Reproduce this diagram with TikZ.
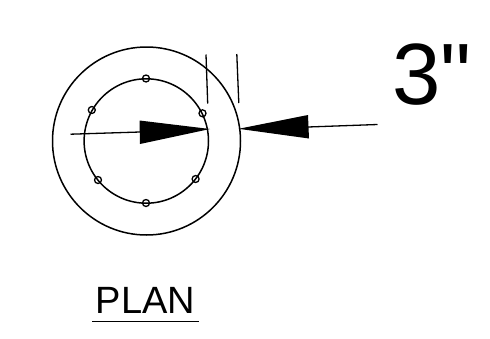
\documentclass[tikz,border=0pt]{standalone}
\usepackage{fontspec}
\setmainfont{Liberation Sans}
\newfontfamily\plainsans{Liberation Sans}
\begin{document}
\begin{tikzpicture}[x=1pt,y=-1pt,
  line/.style={black,line width=1.5pt},
  bar/.style={black,line width=1.3pt},
  rebar/.style={circle,draw=black,line width=1.3pt,minimum size=7pt,inner sep=0pt},
  lab/.style={inner sep=0pt,anchor=base west,text=black}]
\useasboundingbox (0,0) rectangle (490,338);
\fill[white] (0,0) rectangle (490,338);
\draw[line] (146.5,141) circle [radius=94];
\draw[line] (146.3,141) circle [radius=62.2];
\node[rebar] (r1) at (146,78.5) {};
\node[rebar] (r2) at (146,203) {};
\node[rebar] (r3) at (91.8,110) {};
\node[rebar] (r4) at (202.5,113.3) {};
\node[rebar] (r5) at (98,180) {};
\node[rebar] (r6) at (195.6,179) {};
\coordinate (la) at (70.5,134.2);
\coordinate (lb) at (140,132);
\coordinate (lt) at (210,129);
\coordinate (lu) at (139.5,120.5);
\coordinate (ld) at (140,144);
\draw[bar] (la) -- (lb);
\fill[black] (lu) -- (lt) -- (ld) -- cycle;
\coordinate (ra) at (377.5,124.5);
\coordinate (rb) at (308,127);
\coordinate (rt) at (238.5,128.8);
\coordinate (ru) at (308,115);
\coordinate (rd) at (309,138.5);
\draw[bar] (ra) -- (rb);
\fill[black] (ru) -- (rt) -- (rd) -- cycle;
\coordinate (t1a) at (206,54.5);
\coordinate (t1b) at (207.7,103.5);
\coordinate (t2a) at (236.8,54);
\coordinate (t2b) at (238.8,103);
\draw[bar] (t1a) -- (t1b);
\draw[bar] (t2a) -- (t2b);
\node[lab,font=\plainsans\fontsize{87}{87}\selectfont] (dim) at (392,104) {3"};
\node[lab,font=\fontsize{38}{38}\selectfont] (plan) at (95.5,313) {PLAN};
\coordinate (ua) at (92,321.7);
\coordinate (ub) at (198.5,321.7);
\draw[line] (ua) -- (ub);
\end{tikzpicture}
\end{document}
